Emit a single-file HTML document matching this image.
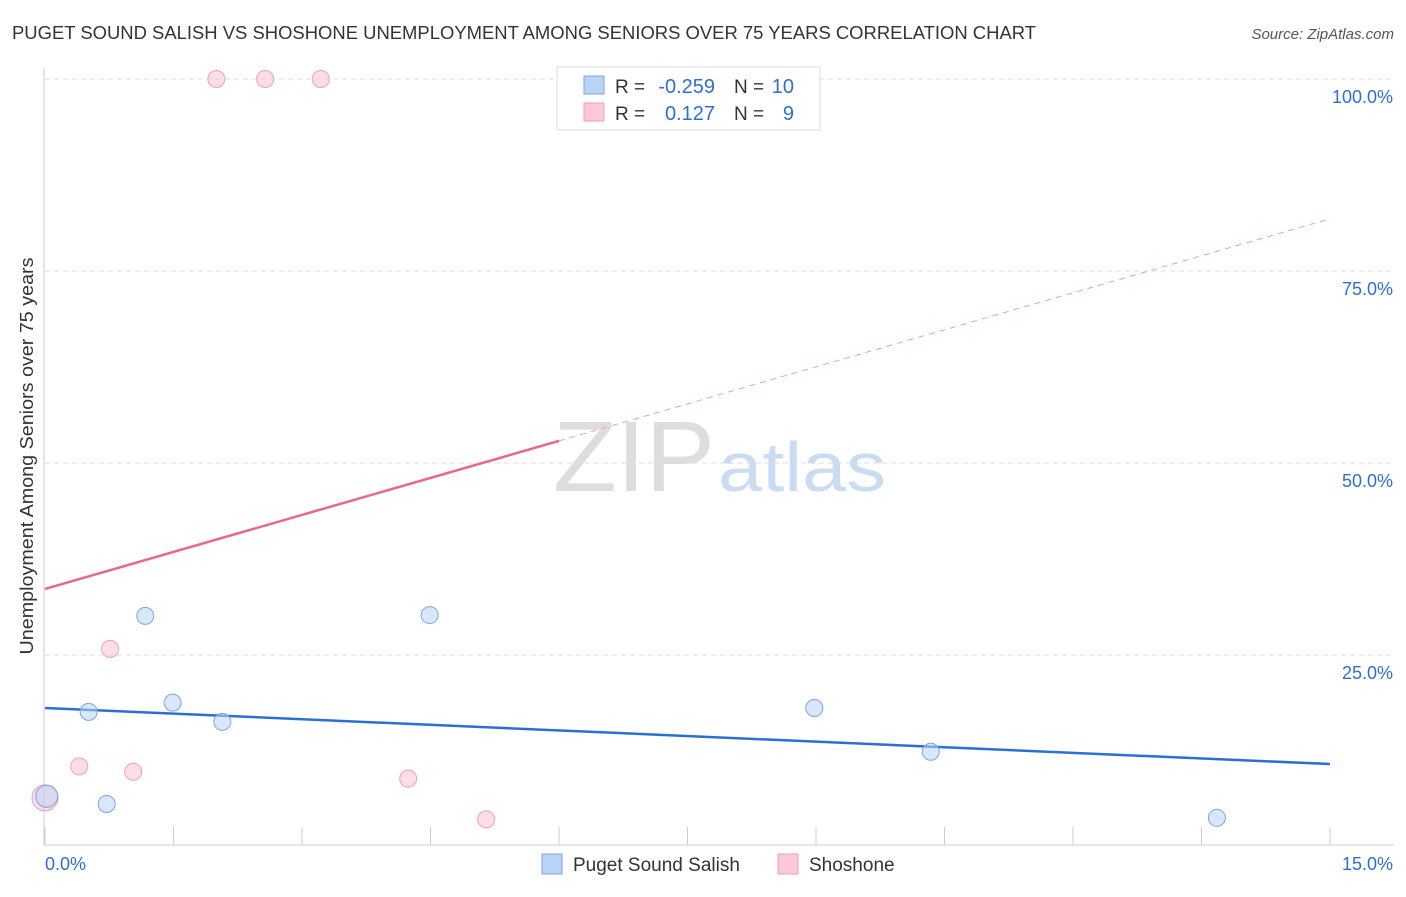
<!DOCTYPE html>
<html><head><meta charset="utf-8"><style>
body{margin:0;background:#fff;font-family:"Liberation Sans",sans-serif}
svg text{font-family:"Liberation Sans",sans-serif}
</style></head><body>
<svg id="c" width="1406" height="892" xmlns="http://www.w3.org/2000/svg">
<text x="12" y="39" font-size="18" fill="#333" textLength="1024" lengthAdjust="spacingAndGlyphs">PUGET SOUND SALISH VS SHOSHONE UNEMPLOYMENT AMONG SENIORS OVER 75 YEARS CORRELATION CHART</text>
<text x="1394" y="39" font-size="15" fill="#555" font-style="italic" text-anchor="end">Source: ZipAtlas.com</text>
<text x="33" y="456" font-size="18" fill="#333" text-anchor="middle" textLength="397" lengthAdjust="spacingAndGlyphs" transform="rotate(-90 33 456)">Unemployment Among Seniors over 75 years</text>
<text x="553" y="491" font-size="100" fill="#ddd" font-family="Liberation Serif" textLength="162" lengthAdjust="spacingAndGlyphs">ZIP</text>
<text x="718" y="491" font-size="70" fill="#c9dcf2" textLength="168" lengthAdjust="spacingAndGlyphs">atlas</text>
<g id="grid"></g><g id="lines"></g><g id="pts"></g>
<g>
<rect x="557" y="67" width="263" height="63" fill="#fff" stroke="#ddd"/>
<rect x="584" y="76" width="20" height="18" fill="#b9d3f5" stroke="#7aa6e0"/>
<rect x="584" y="103" width="20" height="18" fill="#f9c9d6" stroke="#f0a0b8"/>
<text x="615" y="93" font-size="19" fill="#333">R =</text><text x="715" y="93" font-size="20" fill="#2f6fd1" text-anchor="end">-0.259</text>
<text x="734" y="93" font-size="19" fill="#333">N =</text><text x="794" y="93" font-size="20" fill="#2f6fd1" text-anchor="end">10</text>
<text x="615" y="120" font-size="19" fill="#333">R =</text><text x="715" y="120" font-size="20" fill="#2f6fd1" text-anchor="end">0.127</text>
<text x="734" y="120" font-size="19" fill="#333">N =</text><text x="794" y="120" font-size="20" fill="#2f6fd1" text-anchor="end">9</text>
</g>
<g>
<rect x="542" y="854" width="20" height="20" fill="#b9d3f5" stroke="#7aa6e0"/>
<text x="573" y="871" font-size="19" fill="#333">Puget Sound Salish</text>
<rect x="778" y="854" width="20" height="20" fill="#f9c9d6" stroke="#f0a0b8"/>
<text x="809" y="871" font-size="19" fill="#333">Shoshone</text>
</g>
</svg>
<script>
const blueX=[0.02,0.51,0.72,1.17,1.49,2.07,4.49,8.98,10.34,13.68];
const blueY=[6.6,17.6,5.6,30.1,18.8,16.3,30.2,18.1,12.4,3.8];
const pinkX=[0.0,0.40,0.76,1.03,2.0,2.57,3.22,4.24,5.15];
const pinkY=[6.4,10.5,25.8,9.8,100,100,100,8.9,3.6];
const blueTrend=[18.1,10.8];
const pinkTrend=[33.6,81.8];
const yTicks=[25,50,75,100];
const xTickLabels=["0.0%","15.0%"];
const NS="http://www.w3.org/2000/svg";
const sx=v=>45+v/15*1285, sy=v=>847-v/100*768;
function mk(p,t,a){const e=document.createElementNS(NS,t);for(const k in a)e.setAttribute(k,a[k]);document.getElementById(p).appendChild(e);return e;}
let e;
for(const t of yTicks){
 e=mk('grid','line',{x1:45,x2:1394,y1:sy(t),y2:sy(t),stroke:'#ddd','stroke-dasharray':'5,4'});
 
 
 e=mk('grid','text',{x:1393,y:sy(t)+24,'font-size':18,fill:'#2f6fd1','text-anchor':'end'});e.textContent=t.toFixed(1)+'%';
 
 
}
e=mk('grid','line',{x1:44,x2:44,y1:68,y2:845,stroke:'#ccc'});


e=mk('grid','line',{x1:44,x2:1394,y1:845,y2:845,stroke:'#ccc'});


for(let i=0;i<=10;i++){e=mk('grid','line',{x1:sx(i*1.5),x2:sx(i*1.5),y1:827,y2:845,stroke:'#ccc'});
 
 }
e=mk('grid','text',{x:45,y:870,'font-size':18,fill:'#2f6fd1'});e.textContent=xTickLabels[0];


e=mk('grid','text',{x:1393,y:870,'font-size':18,fill:'#2f6fd1','text-anchor':'end'});e.textContent=xTickLabels[1];


e=mk('lines','line',{x1:sx(0),y1:sy(blueTrend[0]),x2:sx(15),y2:sy(blueTrend[1]),stroke:'#2a6fd6','stroke-width':2.5});


const pAt=v=>pinkTrend[0]+(pinkTrend[1]-pinkTrend[0])*v/15;
const xs=6.0;
e=mk('lines','line',{x1:sx(0),y1:sy(pAt(0)),x2:sx(xs),y2:sy(pAt(xs)),stroke:'#e8678f','stroke-width':2.5});


e=mk('lines','line',{x1:sx(xs),y1:sy(pAt(xs)),x2:sx(15),y2:sy(pAt(15)),stroke:'#e8a0b5','stroke-width':1,'stroke-dasharray':'6,5'});


pinkX.forEach((x,i)=>{e=mk('pts','circle',{cx:sx(x),cy:sy(pinkY[i]),r:i==0?13:8.5,fill:'rgba(249,190,208,0.5)',stroke:'#f0a0b8'});
 
 });
blueX.forEach((x,i)=>{e=mk('pts','circle',{cx:sx(x),cy:sy(blueY[i]),r:i==0?11:8.5,fill:'rgba(185,211,245,0.55)',stroke:'#7aa6e0'});
 
 });
</script>
</body></html>
